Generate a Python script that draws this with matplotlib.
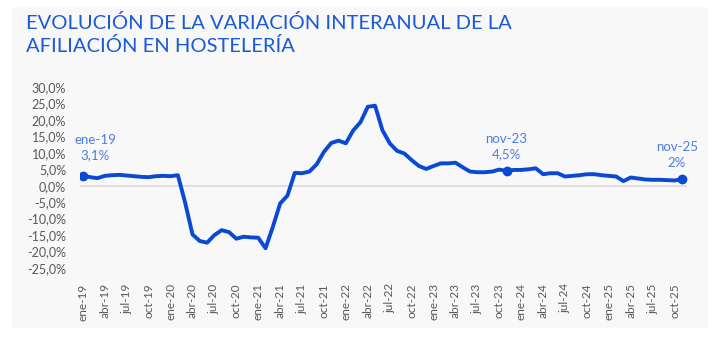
import matplotlib
matplotlib.use("Agg")
import matplotlib.pyplot as plt
from matplotlib.patches import Rectangle
from matplotlib.ticker import FuncFormatter, MultipleLocator

plt.rcParams['font.family'] = ['Lato', 'DejaVu Sans']

meses = ['ene', 'feb', 'mar', 'abr', 'may', 'jun',
         'jul', 'ago', 'sep', 'oct', 'nov', 'dic']
anios = [19, 20, 21, 22, 23, 24, 25]
etiquetas = [f'{m}-{a}' for a in anios for m in meses][:83]

# variación interanual (%) ene-19 .. nov-25
var_2019 = [3.1, 2.6, 2.3, 3.0, 3.2, 3.3, 3.1, 2.9, 2.7, 2.6, 2.9, 3.0]
var_2020 = [2.9, 3.2, -5.2, -14.8, -16.8, -17.3, -15.0, -13.5, -14.1, -16.1, -15.5, -15.7]
var_2021 = [-15.8, -19.0, -12.5, -5.4, -3.0, 3.9, 3.8, 4.3, 6.5, 10.3, 13.0, 13.7]
var_2022 = [12.9, 16.8, 19.3, 24.0, 24.3, 16.9, 12.9, 10.6, 9.8, 7.8, 6.0, 5.1]
var_2023 = [6.0, 6.8, 6.8, 7.0, 5.6, 4.3, 4.1, 4.1, 4.3, 4.9, 4.5, 4.8]
var_2024 = [4.8, 5.0, 5.3, 3.5, 3.8, 3.8, 2.8, 3.0, 3.2, 3.5, 3.5, 3.2]
var_2025 = [3.0, 2.8, 1.4, 2.5, 2.2, 1.9, 1.8, 1.8, 1.7, 1.6, 2.0]
valores = var_2019 + var_2020 + var_2021 + var_2022 + var_2023 + var_2024 + var_2025

destacados = [0, 58, 82]
textos = ['ene-19\n3,1%', 'nov-23\n4,5%', 'nov-25\n2%']

azul = '#0a4ad3'
azul_claro = '#4a7ee0'
gris_txt = '#595959'

fig = plt.figure(figsize=(7.2, 3.48), dpi=100, facecolor='white')
fondo = fig.add_axes([12 / 720, 1 - 328 / 348, 696 / 720, 321 / 348], zorder=-5)
fondo.set_axis_off()
fondo.add_patch(Rectangle((0, 0), 1, 1, transform=fondo.transAxes,
                          facecolor='#f8f8f8', edgecolor='none'))

ax = fig.add_axes([80 / 720, 1 - 268 / 348, 607 / 720, 181 / 348])
ax.set_facecolor('none')
x = list(range(len(valores)))
ax.plot(x, valores, color=azul, lw=2.8, solid_joinstyle='round', zorder=3)
ax.plot([x[i] for i in destacados], [valores[i] for i in destacados], 'o',
        color=azul, ms=6, zorder=4)
ax.axhline(0, color='#d9d9d9', lw=1.2, zorder=1)

desplaz = [(9, 10), (0, 7.5), (-3.6, 7.5)]
for i, t, d in zip(destacados, textos, desplaz):
    ax.annotate(t, (x[i], valores[i]), xytext=d, textcoords='offset points',
                ha='center', va='bottom', color=azul_claro, fontsize=9.5,
                linespacing=1.4)

ax.set_xlim(-0.4, 82.7)
ax.set_ylim(-25, 30)
ax.yaxis.set_major_locator(MultipleLocator(5))
ax.yaxis.set_major_formatter(FuncFormatter(
    lambda v, p: f'{v:.1f}%'.replace('.', ',').replace('\u2212', '-')))
ax.set_xticks(x[::3])
ax.set_xticklabels(etiquetas[::3], rotation=90)
ax.tick_params(axis='both', length=0, colors=gris_txt, labelsize=9)
ax.tick_params(axis='x', pad=11, labelsize=8.5)
ax.tick_params(axis='y', pad=10)
for s in ax.spines.values():
    s.set_visible(False)

fig.text(26 / 720, 1 - 14 / 348, 'EVOLUCIÓN DE LA VARIACIÓN INTERANUAL DE LA\nAFILIACIÓN EN HOSTELERÍA',
         color='#1a5ad8', fontsize=14.5, va='top', ha='left', linespacing=1.3)

fig.savefig('out.png', dpi=100, facecolor='white')
